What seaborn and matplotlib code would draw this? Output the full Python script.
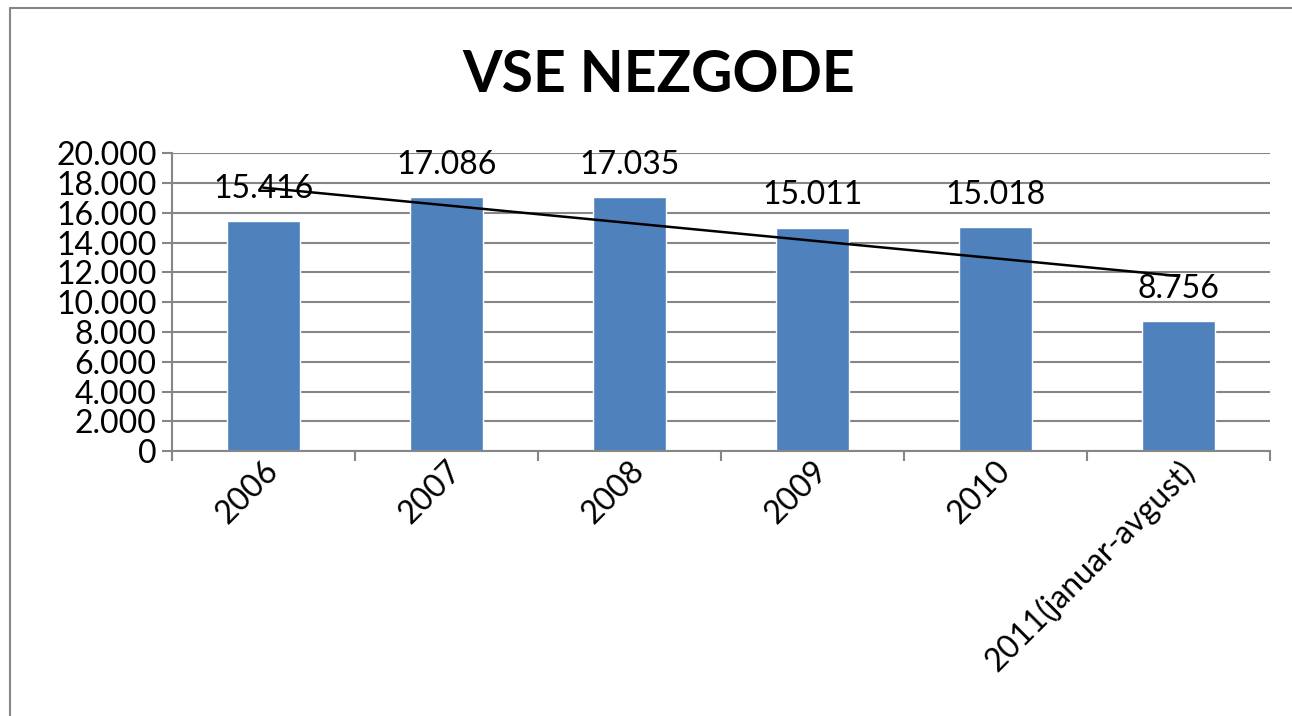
import numpy as np
import seaborn as sns
import matplotlib.pyplot as plt
from matplotlib.ticker import FuncFormatter, FixedLocator
from matplotlib.lines import Line2D

# data
years = ["2006", "2007", "2008", "2009", "2010", "2011(januar-avgust)"]
accidents = [15416, 17086, 17035, 15011, 15018, 8756]
title = "VSE NEZGODE"

BAR_COLOR = "#4F81BD"
GRID_COLOR = "#868686"

sns.set_theme(style="white")
plt.rcParams['font.family'] = ['Lato', 'DejaVu Sans']
plt.rcParams['text.color'] = 'black'
plt.rcParams['xtick.color'] = 'black'
plt.rcParams['ytick.color'] = 'black'

fig = plt.figure(figsize=(12.92, 7.16), dpi=100)
ax = fig.add_axes([0.133, 0.370, 0.850, 0.416])

sns.barplot(x=years, y=accidents, color=BAR_COLOR, width=0.4,
            saturation=1, ax=ax)

# linear trend line through bar centres
sns.regplot(x=np.arange(len(accidents)), y=np.array(accidents, dtype=float),
            scatter=False, ci=None, truncate=True, color="black",
            line_kws={"lw": 1.8}, ax=ax)


def thousands(v, pos=None):
    return f"{v:,.0f}".replace(",", ".")


# value labels above bars
for i, v in enumerate(accidents):
    ax.text(i, v + 1550, thousands(v), ha="center", va="baseline",
            fontsize=23, color="black")

ax.set_xlim(-0.5, len(years) - 0.5)
ax.set_ylim(0, 20000)
ax.set_yticks(np.arange(0, 20001, 2000))
ax.yaxis.set_major_formatter(FuncFormatter(thousands))
ax.yaxis.grid(True, color=GRID_COLOR, lw=1.5)
ax.set_axisbelow(True)

# category boundary tick marks like the original
ax.xaxis.set_minor_locator(FixedLocator(np.arange(-0.5, len(years), 1.0)))
ax.tick_params(axis="x", which="major", length=0, pad=3)
ax.tick_params(axis="x", which="minor", bottom=True, length=7,
               color=GRID_COLOR, width=1.5)
ax.tick_params(axis="y", left=True, length=7, color=GRID_COLOR, width=1.5,
               labelsize=23, pad=4)
plt.setp(ax.get_xticklabels(), rotation=45, ha="right",
         rotation_mode="anchor", fontsize=23)
ax.set_xlabel("")
ax.set_ylabel("")

for side in ["top", "right"]:
    ax.spines[side].set_visible(False)
for side in ["left", "bottom"]:
    ax.spines[side].set_color(GRID_COLOR)
    ax.spines[side].set_linewidth(1.5)

fig.text(0.51, 0.895, title, ha="center", va="center", fontsize=41,
         fontweight="bold")

# chart area border (only left and top visible)
fig.add_artist(Line2D([0.008, 0.008], [0.0, 0.989], color=GRID_COLOR, lw=1.5))
fig.add_artist(Line2D([0.008, 1.0], [0.989, 0.989], color=GRID_COLOR, lw=1.5))

fig.savefig("out.png", dpi=100)
